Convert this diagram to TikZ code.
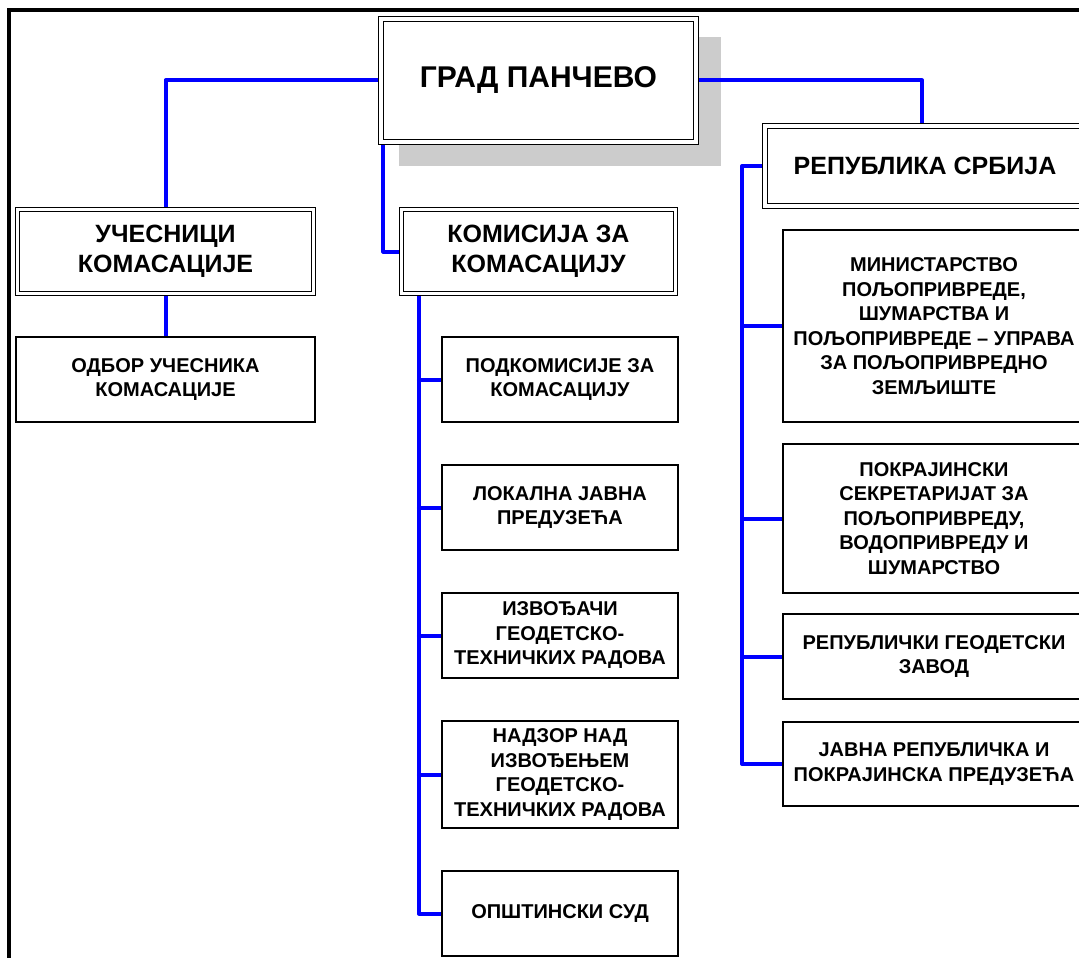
\documentclass[tikz,border=0pt]{standalone}
\usepackage{fontspec}
\setmainfont{Liberation Sans}
\usetikzlibrary{backgrounds,calc}
\begin{document}
\begin{tikzpicture}[x=1pt,y=-1pt,
  box/.style={draw=black,line width=1.1pt,fill=white,inner sep=0pt,align=center,
    font=\bfseries\fontsize{20}{24.5}\selectfont},
  dbox/.style={draw=black,double=white,double distance=3.2pt,line width=1.1pt,fill=white,
    inner sep=0pt,align=center,font=\bfseries\fontsize{25}{30}\selectfont},
  link/.style={draw=blue,line width=4pt,line cap=round,line join=round},
  frame/.style={draw=black,line width=4pt}]
\useasboundingbox (0,0) rectangle (1079,958);

% main nodes
\node[dbox,minimum width=315pt,minimum height=123pt,font=\bfseries\fontsize{30}{36}\selectfont]
  (grad) at (538.5,80.5) {ГРАД ПАНЧЕВО};
\node[dbox,minimum width=296pt,minimum height=84pt] (uc) at (165.5,251.5) {УЧЕСНИЦИ\\КОМАСАЦИЈЕ};
\node[dbox,minimum width=274pt,minimum height=84pt] (kom) at (538.5,251.5) {КОМИСИЈА ЗА\\КОМАСАЦИЈУ};
\node[dbox,minimum width=320pt,minimum height=80pt] (rep) at (925,166) {РЕПУБЛИКА СРБИЈА};

% left column
\node[box,minimum width=299pt,minimum height=85pt] (odb) at (165.5,379.5) {ОДБОР УЧЕСНИКА\\КОМАСАЦИЈЕ};

% middle column
\node[box,minimum width=236pt,minimum height=85pt] (pod) at (560,379.5) {ПОДКОМИСИЈЕ ЗА\\КОМАСАЦИЈУ};
\node[box,minimum width=236pt,minimum height=85pt] (lok) at (560,507.5) {ЛОКАЛНА ЈАВНА\\ПРЕДУЗЕЋА};
\node[box,minimum width=236pt,minimum height=85pt] (izv) at (560,635.5) {ИЗВОЂАЧИ\\ГЕОДЕТСКО-\\ТЕХНИЧКИХ РАДОВА};
\node[box,minimum width=236pt,minimum height=107pt] (nad) at (560,774.5) {НАДЗОР НАД\\ИЗВОЂЕЊЕМ\\ГЕОДЕТСКО-\\ТЕХНИЧКИХ РАДОВА};
\node[box,minimum width=236pt,minimum height=85pt] (ops) at (560,913.5) {ОПШТИНСКИ СУД};

% right column
\node[box,minimum width=302pt,minimum height=192pt] (min) at (934,326) {МИНИСТАРСТВО\\ПОЉОПРИВРЕДЕ,\\ШУМАРСТВА И\\ПОЉОПРИВРЕДЕ – УПРАВА\\ЗА ПОЉОПРИВРЕДНО\\ЗЕМЉИШТЕ};
\node[box,minimum width=302pt,minimum height=149pt] (pok) at (934,518.5) {ПОКРАЈИНСКИ\\СЕКРЕТАРИЈАТ ЗА\\ПОЉОПРИВРЕДУ,\\ВОДОПРИВРЕДУ И\\ШУМАРСТВО};
\node[box,minimum width=302pt,minimum height=85pt] (rgz) at (934,656.5) {РЕПУБЛИЧКИ ГЕОДЕТСКИ\\ЗАВОД};
\node[box,minimum width=302pt,minimum height=84pt] (jav) at (934,764) {ЈАВНА РЕПУБЛИЧКА И\\ПОКРАЈИНСКА ПРЕДУЗЕЋА};

% bus coordinates
\coordinate (kbus) at ([xshift=18pt]kom.south west);
\coordinate (rbus) at (742,166);

\begin{scope}[on background layer]
  % shadow of the main box
  \fill[black!20] (399,37) rectangle (721,166);
  \draw[link] (grad.west) -| (uc.north);
  \draw[link] (grad.east) -| ([xshift=-3pt]rep.north);
  \draw[link] ([xshift=3pt]grad.south west) |- (kom.west);
  \draw[link] (uc.south) -- (odb.north);
  \draw[link] (kbus) |- (ops.west);
  \draw[link] (kbus |- pod.west) -- (pod.west);
  \draw[link] (kbus |- lok.west) -- (lok.west);
  \draw[link] (kbus |- izv.west) -- (izv.west);
  \draw[link] (kbus |- nad.west) -- (nad.west);
  \draw[link] (rep.west) -- (rbus) |- (jav.west);
  \draw[link] (rbus |- min.west) -- (min.west);
  \draw[link] (rbus |- pok.west) -- (pok.west);
  \draw[link] (rbus |- rgz.west) -- (rgz.west);
\end{scope}

% outer frame
\draw[frame] (1085,10) -- (9,10) -- (9,965);
\end{tikzpicture}
\end{document}
